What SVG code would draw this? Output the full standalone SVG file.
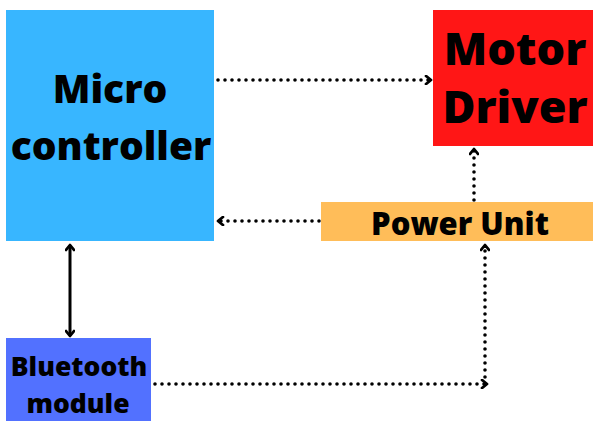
<svg xmlns="http://www.w3.org/2000/svg" width="593" height="421" viewBox="0 0 593 421">
  <defs>
    <style>
      .lbl { font-family: "Open Sans", "Noto Sans", "Liberation Sans", sans-serif; font-weight: 800; fill: #000; text-anchor: middle; }
      .dot { fill: none; stroke: #000; stroke-width: 3.6; stroke-linecap: round; stroke-dasharray: 0 7; }
      .solid { fill: none; stroke: #000; stroke-width: 3; }
    </style>
    <marker id="chev" viewBox="0 0 10 10" refX="8" refY="5" markerWidth="10" markerHeight="10" markerUnits="userSpaceOnUse" orient="auto-start-reverse">
      <path d="M3,1 L8,5 L3,9" fill="none" stroke="#000" stroke-width="2.8" stroke-linecap="round" stroke-linejoin="round"/>
    </marker>
  </defs>
  <rect width="593" height="421" fill="#fff"/>

  <g id="microcontroller">
    <rect x="6" y="10" width="208" height="231" fill="#38b6ff"/>
    <text class="lbl" x="110" y="103" font-size="39">Micro</text>
    <text class="lbl" x="111" y="160" font-size="39">controller</text>
  </g>

  <g id="motor-driver">
    <rect x="433" y="10" width="160" height="136" fill="#ff1616"/>
    <text class="lbl" x="515" y="65" font-size="45">Motor</text>
    <text class="lbl" x="515" y="123" font-size="45">Driver</text>
  </g>

  <g id="power-unit">
    <rect x="321" y="202" width="272" height="39" fill="#ffbd59"/>
    <text class="lbl" x="460" y="235" font-size="31">Power Unit</text>
  </g>

  <g id="bluetooth-module">
    <rect x="6" y="338" width="145" height="83" fill="#5271ff"/>
    <text class="lbl" x="79" y="376" font-size="26.5">Bluetooth</text>
    <text class="lbl" x="78" y="413" font-size="26.5">module</text>
  </g>

  <g id="connectors">
    <path class="dot" d="M218,80 H431" marker-end="url(#chev)"/>
    <path class="dot" d="M319,221 H218" marker-end="url(#chev)"/>
    <path class="dot" d="M474,200 V149" marker-end="url(#chev)"/>
    <path class="dot" d="M155,384 H487" marker-end="url(#chev)"/>
    <path class="dot" d="M485,384 V245" marker-end="url(#chev)"/>
    <path class="solid" d="M70,245 V336" marker-start="url(#chev)" marker-end="url(#chev)"/>
  </g>
</svg>
